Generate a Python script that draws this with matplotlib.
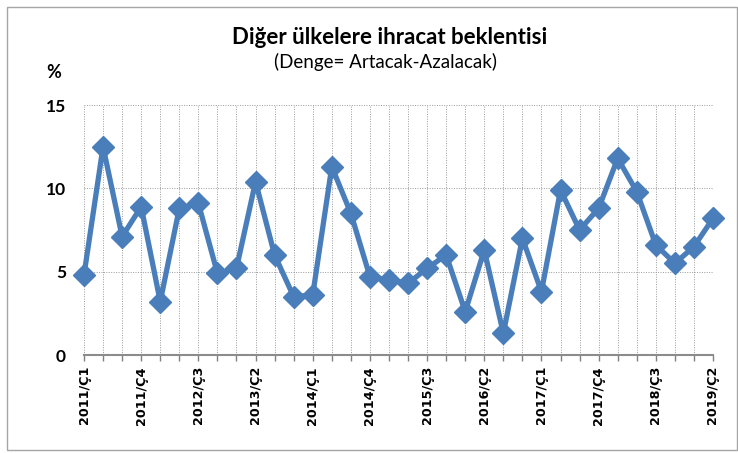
import matplotlib
matplotlib.use("Agg")
import matplotlib.pyplot as plt
from matplotlib.patches import Rectangle

quarters = []
for yr in range(2011, 2020):
    for q in range(1, 5):
        quarters.append(f"{yr}/Ç{q}")
quarters = quarters[:34]

values = [4.8, 12.5, 7.1, 8.9, 3.2, 8.8, 9.1, 4.9, 5.2, 10.4,
          6.0, 3.5, 3.6, 11.3, 8.5, 4.7, 4.5, 4.3, 5.2, 6.0,
          2.6, 6.3, 1.3, 7.0, 3.8, 9.9, 7.5, 8.8, 11.8, 9.8,
          6.6, 5.5, 6.5, 8.2]

yticks = [0, 5, 10, 15]

BLUE = "#4a7ebb"

fig = plt.figure(figsize=(7.38, 4.53), dpi=100)
fig.patches.append(Rectangle((7 / 738, 3 / 453), 730 / 738, 443 / 453, transform=fig.transFigure,
                             fill=False, edgecolor="#a6a6a6", linewidth=1.0))

ax = fig.add_axes([84 / 738, 98 / 453, 629 / 738, 250 / 453])
x = list(range(len(values)))
ax.plot(x, values, color=BLUE, linewidth=3.8, marker="D", markersize=11, zorder=3, clip_on=False)

ax.set_xlim(0, len(values) - 1)
ax.set_ylim(0, 15)
ax.set_yticks(yticks)
ax.set_yticklabels([str(t) for t in yticks], fontsize=12.5, fontweight="bold", family="Lato")
ax.set_xticks(x)
ax.set_xticklabels([q if i % 3 == 0 else "" for i, q in enumerate(quarters)],
                   rotation=90, fontsize=9.2, fontweight="bold", family="DejaVu Sans")
ax.tick_params(axis="x", length=4, color="#808080", width=1, pad=4)
ax.tick_params(axis="y", length=0, pad=13)

ax.grid(True, linestyle=(0, (1, 1.5)), color="#9a9a9a", linewidth=0.7)
ax.set_axisbelow(True)
for s in ["top", "right", "left"]:
    ax.spines[s].set_visible(False)
ax.spines["bottom"].set_color("#8c8c8c")
ax.spines["bottom"].set_linewidth(1.5)

fig.text(390 / 738, 1 - 38 / 453, "Diğer ülkelere ihracat beklentisi", ha="center", va="center",
         fontsize=16, fontweight="bold", family="Lato")
fig.text(386 / 738, 1 - 62 / 453, "(Denge= Artacak-Azalacak)", ha="center", va="center",
         fontsize=13.5, family="Lato")
fig.text(54 / 738, 1 - 72 / 453, "%", ha="center", va="center", fontsize=13, fontweight="bold", family="Lato")

fig.savefig("out.png", dpi=100)
